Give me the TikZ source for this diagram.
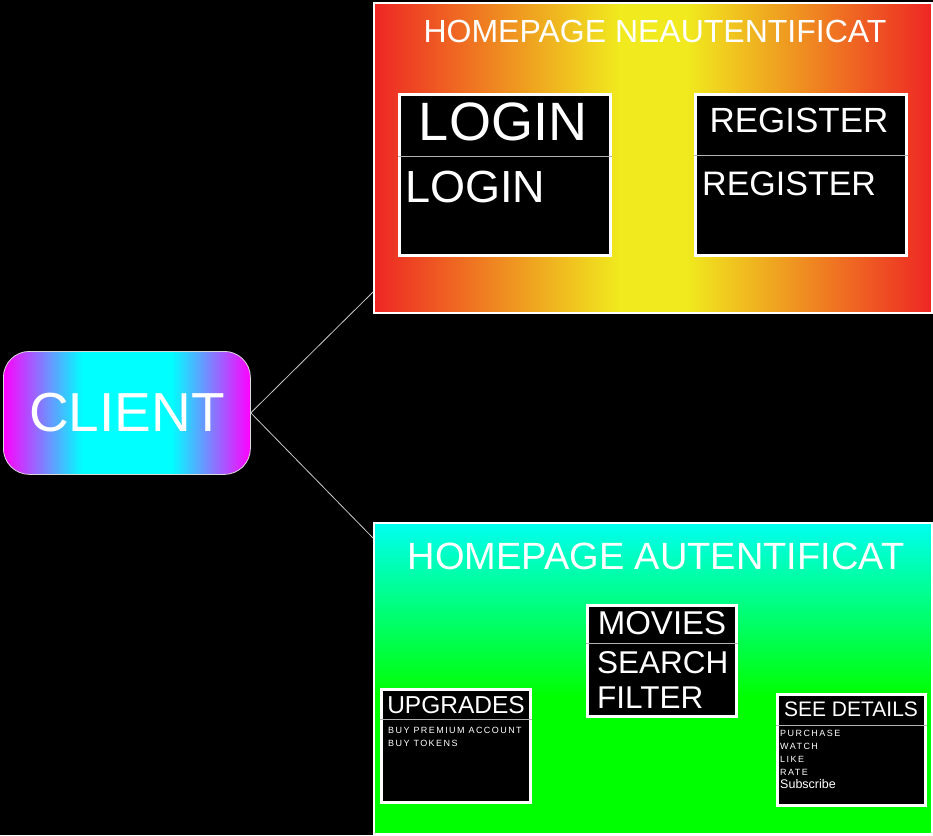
\documentclass[tikz,border=0pt]{standalone}
\usepackage{fontspec}
\setmainfont{Liberation Sans}
\newfontfamily\spacedfont[LetterSpace=16]{Liberation Sans}
\usetikzlibrary{calc}

\definecolor{panelred}{RGB}{238,38,36}
\definecolor{panelyellow}{RGB}{240,234,30}
\definecolor{panelcyan}{RGB}{0,255,240}
\definecolor{panelgreen}{RGB}{0,255,0}
\definecolor{linkgray}{RGB}{200,200,200}

% only 25bp--75bp of a shading is seen on a path
\pgfdeclarehorizontalshading{clientshade}{100bp}{color(0bp)=(magenta); color(25bp)=(magenta);
  color(41bp)=(cyan); color(59bp)=(cyan); color(75bp)=(magenta); color(100bp)=(magenta)}
\pgfdeclarehorizontalshading{guestshade}{100bp}{color(0bp)=(panelred); color(25bp)=(panelred);
  color(47bp)=(panelyellow); color(53bp)=(panelyellow); color(75bp)=(panelred); color(100bp)=(panelred)}
\pgfdeclareverticalshading{membershade}{100bp}{color(0bp)=(panelgreen); color(47bp)=(panelgreen);
  color(75bp)=(panelcyan); color(100bp)=(panelcyan)}

\newcommand{\fsize}[1]{\fontsize{#1}{#1}\selectfont}

\begin{document}
\begin{tikzpicture}[x=1pt,y=-1pt,
        panel/.style={draw=white,line width=2pt,anchor=north west,inner sep=0pt},
        card/.style={draw=white,line width=2.5pt,fill=black,anchor=north west,inner sep=0pt},
        divider/.style={draw=white!70!black,line width=1pt},
        link/.style={draw=linkgray,line width=0.8pt},
        label/.style={text=white,inner sep=0pt},
        small/.style={label,anchor=west,font=\spacedfont\fsize{9}}]
      \fill[black] (0,0) rectangle (933,835);
      \useasboundingbox (0,0) rectangle (933,835);

      % client
      \node[draw=white!85!black,line width=0.8pt,rounded corners=26pt,
        minimum width=247pt,minimum height=123pt,anchor=north west,
        shade,shading=clientshade,shading angle=0,
        text=white,font=\fsize{55}] (client) at (3,351) {CLIENT};

      % homepage neautentificat
      \node[panel,minimum width=558pt,minimum height=310pt,
        shade,shading=guestshade,shading angle=0] (guest) at (373,2) {};
      \node[label,font=\fsize{32}] (guesttitle) at (655,31) {HOMEPAGE NEAUTENTIFICAT};

      \node[card,minimum width=211pt,minimum height=161pt] (login) at (398,93) {};
      \draw[divider] (login.north west |- 0,156) -- (login.north east |- 0,156);
      \node[label,font=\fsize{54}] (loginhead) at (503,122) {LOGIN};
      \node[label,anchor=west,font=\fsize{45}] (loginbody) at (405,187) {LOGIN};

      \node[card,minimum width=211pt,minimum height=161pt] (register) at (694,93) {};
      \draw[divider] (register.north west |- 0,155) -- (register.north east |- 0,155);
      \node[label,font=\fsize{35}] (registerhead) at (799,120) {REGISTER};
      \node[label,anchor=west,font=\fsize{34}] (registerbody) at (702,184) {REGISTER};

      % homepage autentificat
      \node[panel,minimum width=558pt,minimum height=311pt,
        shade,shading=membershade,shading angle=0] (member) at (373,522) {};
      \node[label,font=\fsize{38}] (membertitle) at (656,556) {HOMEPAGE AUTENTIFICAT};

      \node[card,minimum width=149pt,minimum height=111pt] (movies) at (586,604) {};
      \draw[divider] (movies.north west |- 0,643) -- (movies.north east |- 0,643);
      \node[label,font=\fsize{33}] (movieshead) at (662,623) {MOVIES};
      \node[label,anchor=west,font=\fsize{31.5}] (search) at (597,663) {SEARCH};
      \node[label,anchor=west,font=\fsize{31.5}] (filter) at (597,698) {FILTER};

      \node[card,minimum width=149pt,minimum height=113pt] (upgrades) at (380,688) {};
      \draw[divider] (upgrades.north west |- 0,719) -- (upgrades.north east |- 0,719);
      \node[label,font=\fsize{24.5}] (upgradeshead) at (456,705) {UPGRADES};
      \node[small] (premium) at (388,730) {BUY PREMIUM ACCOUNT};
      \node[small] (tokens) at (388,743) {BUY TOKENS};

      \node[card,minimum width=148pt,minimum height=111pt] (details) at (776,693) {};
      \draw[divider] (details.north west |- 0,725) -- (details.north east |- 0,725);
      \node[label,font=\fsize{21}] (detailshead) at (851,709) {SEE DETAILS};
      \node[small] (purchase) at (780,733) {PURCHASE};
      \node[small] (watch) at (780,746) {WATCH};
      \node[small] (like) at (780,759) {LIKE};
      \node[small] (rate) at (780,772) {RATE};
      \node[label,anchor=west,font=\fsize{12.5}] (subscribe) at (780,784) {Subscribe};

      % connectors
      \coordinate (guestport) at ($(guest.south west)+(0,-22)$);
      \coordinate (memberport) at ($(member.north west)+(0,16)$);
      \draw[link] (client.east) -- (guestport);
      \draw[link] (client.east) -- (memberport);
    \end{tikzpicture}
\end{document}
